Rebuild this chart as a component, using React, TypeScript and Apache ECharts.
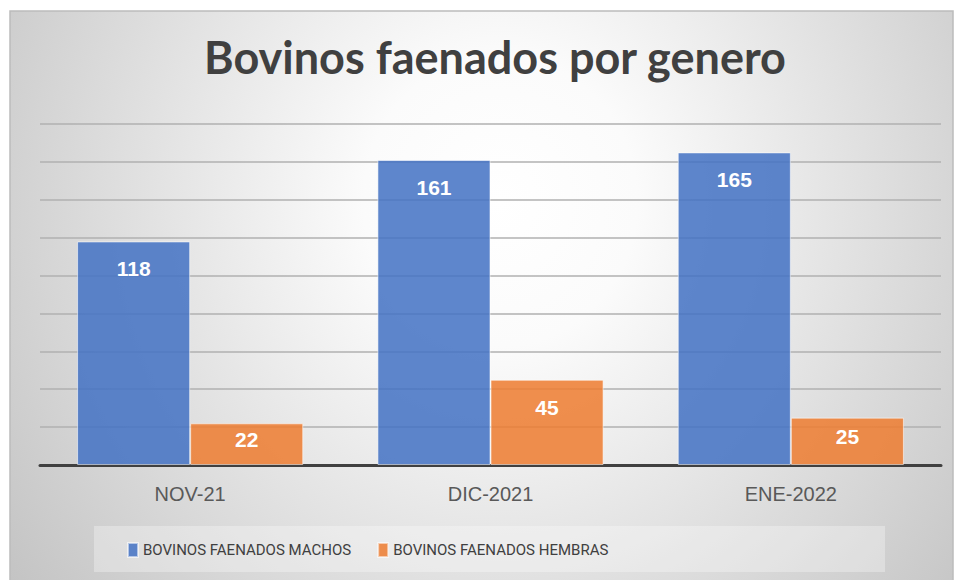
import React, { useEffect, useRef } from "react";
import * as echarts from "echarts";

const categories = ["NOV-21", "DIC-2021", "ENE-2022"];
const machos = [118, 161, 165];
const hembras = [22, 45, 25];
const seriesNames = ["BOVINOS FAENADOS MACHOS", "BOVINOS FAENADOS HEMBRAS"];
const titleText = "Bovinos faenados por genero";

export default function App() {
  const ref = useRef<HTMLDivElement>(null);
  useEffect(() => {
    if (!ref.current) return;
    const chart = echarts.init(ref.current, undefined, { renderer: "svg" });
    const labelFor = (vals: number[]) =>
      vals.map((v) =>
        v < 30
          ? { value: v, label: { position: "inside", offset: [0, -5] } }
          : v
      );
    const labelStyle = {
      show: true,
      position: "insideTop",
      distance: 17,
      color: "#ffffff",
      fontFamily: "Liberation Sans",
      fontWeight: "bold",
      fontSize: 21,
    };
    chart.setOption({
      animation: false,
      backgroundColor: "#ffffff",
      graphic: [
        {
          type: "rect",
          z: -10,
          shape: { x: 10, y: 11, width: 943, height: 1000 },
          style: {
            fill: new echarts.graphic.RadialGradient(0.52, 0.19, 0.66, [
              { offset: 0, color: "#ffffff" },
              { offset: 0.22, color: "#fbfbfb" },
              { offset: 1, color: "#c2c2c2" },
            ]),
            stroke: "#bcbcbc",
            lineWidth: 1.5,
          },
          silent: true,
        },
        {
          type: "rect",
          z: -9,
          shape: { x: 94, y: 526, width: 791, height: 46 },
          style: { fill: "rgba(255,255,255,0.3)" },
          silent: true,
        },
      ],
      title: {
        text: titleText,
        left: 490,
        textAlign: "center",
        top: 29,
        textStyle: {
          fontFamily: "Lato",
          fontWeight: "bold",
          fontSize: 45,
          color: "#404040",
        },
      },
      legend: {
        left: 127,
        top: 542,
        padding: 0,
        itemWidth: 10,
        itemHeight: 14,
        itemGap: 26,
        icon: "rect",
        data: seriesNames,
        textStyle: {
          fontFamily: "Roboto",
          fontSize: 15,
          color: "#404040",
        },
      },
      grid: { left: 40, right: 18, top: 124, bottom: 115, containLabel: false },
      xAxis: {
        type: "category",
        data: categories,
        axisLine: { show: true, lineStyle: { color: "#404040", width: 3 } },
        axisTick: { show: false },
        axisLabel: {
          margin: 19,
          color: "#595959",
          fontFamily: "Liberation Sans",
          fontSize: 20,
        },
      },
      yAxis: {
        type: "value",
        min: 0,
        max: 180,
        interval: 20,
        axisLabel: { show: false },
        axisLine: { show: false },
        axisTick: { show: false },
        splitLine: { lineStyle: { color: "#b0b0b0", width: 1.5 } },
      },
      series: [
        {
          name: seriesNames[0],
          type: "bar",
          data: labelFor(machos),
          barGap: "0%",
          barCategoryGap: "24.7%",
          itemStyle: {
            color: "rgba(68,114,196,0.86)",
            borderColor: "rgba(255,255,255,0.55)",
            borderWidth: 1,
          },
          label: labelStyle,
        },
        {
          name: seriesNames[1],
          type: "bar",
          data: labelFor(hembras),
          barGap: "0%",
          barCategoryGap: "24.7%",
          itemStyle: {
            color: "rgba(237,125,49,0.86)",
            borderColor: "rgba(255,255,255,0.55)",
            borderWidth: 1,
          },
          label: labelStyle,
        },
      ],
    });
    return () => chart.dispose();
  }, []);
  return (
    <div
      ref={ref}
      style={{ position: "absolute", left: 0, top: 0, width: 959, height: 580 }}
    />
  );
}
